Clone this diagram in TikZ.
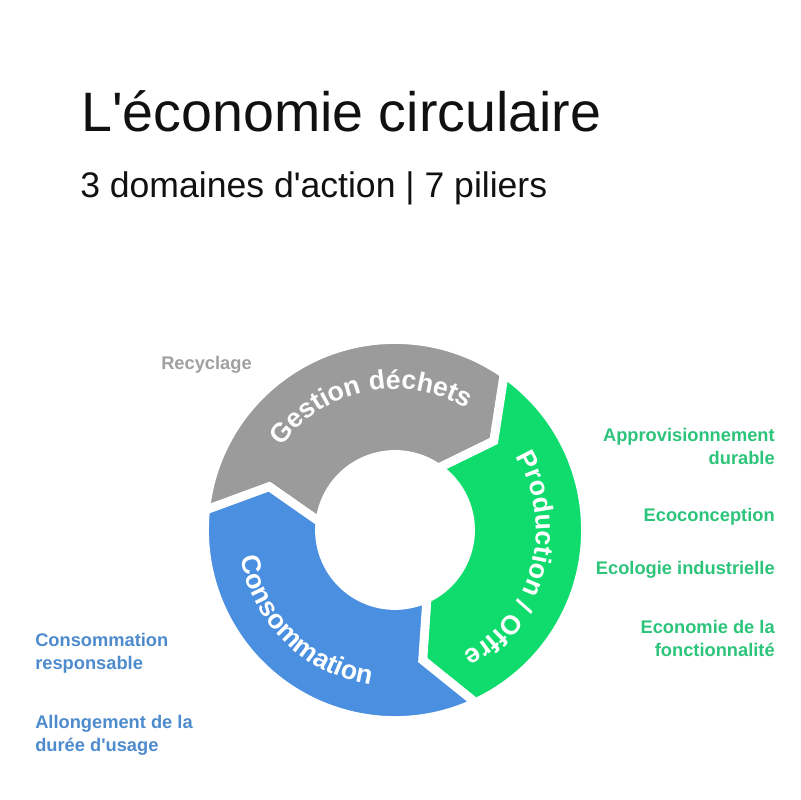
\documentclass[tikz,border=0pt]{standalone}
\usepackage{fontspec}
\setmainfont{Liberation Sans}
\usetikzlibrary{decorations.text}

\definecolor{ringgray}{RGB}{155,155,155}
\definecolor{ringgreen}{RGB}{16,220,110}
\definecolor{ringblue}{RGB}{74,143,224}
\definecolor{txtgray}{RGB}{160,160,160}
\definecolor{txtgreen}{RGB}{44,196,122}
\definecolor{txtblue}{RGB}{78,139,205}
\definecolor{titlecol}{RGB}{17,17,17}

\newcommand{\ringfont}{\bfseries\fontsize{19}{21}\selectfont}
\newcommand{\pillarfont}{\bfseries\fontsize{13}{17}\selectfont}
\newcommand{\sq}{\textquotesingle}

% one arrow part of the ring: colour, start angle, end angle
\newcommand{\ringpart}[3]{%
  \fill[#1,partedge] (#2:190.5) arc[start angle=#2, end angle=#3, radius=190.5]
    -- ({#3-13}:133) -- (#3:75.5) arc[start angle=#3, end angle=#2, radius=75.5]
    -- ({#2-13}:133) -- cycle;}

\tikzset{
  partedge/.style={draw=white,line width=0.22cm,line join=miter},
  pillar/.style={font=\pillarfont,inner sep=0pt,align=right,anchor=base east},
  pillarleft/.style={font=\pillarfont,inner sep=0pt,align=left,anchor=base west},
  ringlabel/.style={decorate,decoration={text along path,text align=center,text color=white,text={|\ringfont|#1}}}
}

\begin{document}
\begin{tikzpicture}[x=0.025cm,y=0.025cm]
\useasboundingbox (0,0) rectangle (800,800);

% Title
\node[inner sep=0pt,anchor=base west,text=titlecol,font=\fontsize{39.5}{44}\selectfont] (title) at (81,668) {L\sq économie circulaire};
\node[inner sep=0pt,anchor=base west,text=titlecol,font=\fontsize{25.3}{30}\selectfont] (subtitle) at (80,602) {3 domaines d\sq action | 7 piliers};

% Ring
\begin{scope}[shift={(395,270)}]
\ringpart{ringgray}{174}{55}
\ringpart{ringgreen}{55}{-65}
\ringpart{ringblue}{295}{174}

% Curved labels
\path[ringlabel={Gestion déchets}] (171.5:141) arc[start angle=171.5, end angle=31.5, radius=141];
\path[ringlabel={Production / Offre}] (55:141) arc[start angle=55, end angle=-85, radius=141];
\path[ringlabel={Consommation}] (155.6:157) arc[start angle=155.6, end angle=295.6, radius=157];
\end{scope}

% Pillars (base = last line)
\node[pillarleft,text=txtgray] (recyc) at (161,430) {Recyclage};

\node[pillar,text=txtgreen] (appro) at (775,335) {Approvisionnement\\durable};
\node[pillar,text=txtgreen] (ecoconc) at (775,278) {Ecoconception};
\node[pillar,text=txtgreen] (ecolind) at (775,225) {Ecologie industrielle};
\node[pillar,text=txtgreen] (econfonc) at (775,143) {Economie de la\\fonctionnalité};

\node[pillarleft,text=txtblue] (conso) at (35,130) {Consommation\\responsable};
\node[pillarleft,text=txtblue] (allong) at (35,48) {Allongement de la\\durée d\sq usage};
\end{tikzpicture}
\end{document}
